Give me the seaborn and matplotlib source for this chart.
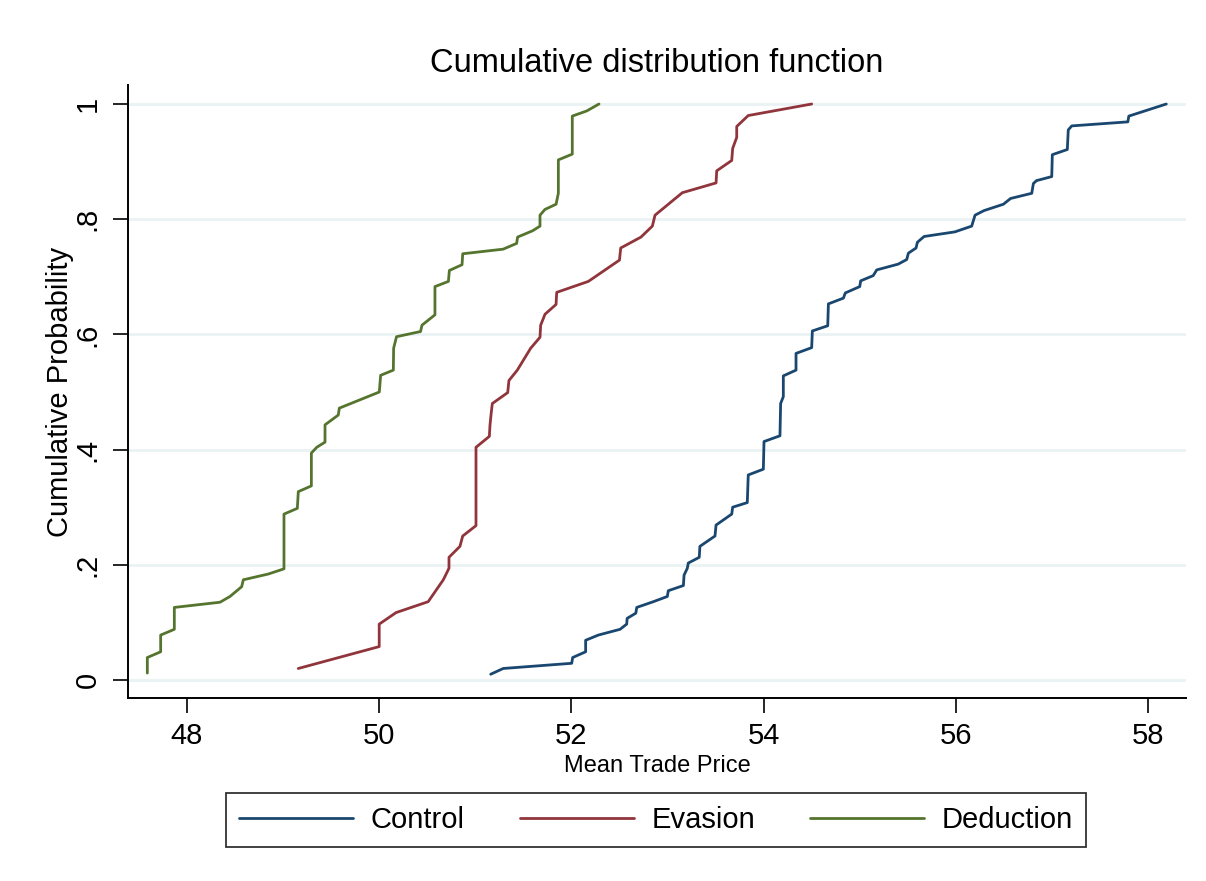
import numpy as np
import pandas as pd
import seaborn as sns
import matplotlib
matplotlib.use("Agg")
import matplotlib.pyplot as plt

# ---- data ----
groups = ["Control", "Evasion", "Deduction"]

control_x = [51.16, 51.29, 52.003, 52.013, 52.148, 52.148, 52.28, 52.506, 52.575, 52.58,
             52.67, 52.68, 52.853, 52.998, 53.008, 53.165, 53.172, 53.206, 53.216, 53.33,
             53.337, 53.494, 53.505, 53.668, 53.678, 53.83, 53.84, 53.997, 54.004, 54.17,
             54.177, 54.205, 54.205, 54.337, 54.337, 54.5, 54.507, 54.667, 54.674, 54.83,
             54.85, 55.0, 55.01, 55.14, 55.177, 55.40, 55.489, 55.506, 55.586, 55.6,
             55.67, 55.99, 56.165, 56.2, 56.294, 56.495, 56.57, 56.79, 56.807, 56.84,
             56.998, 57.004, 57.16, 57.17, 57.206, 57.79, 57.8, 58.19]
control_y = [0.010, 0.020, 0.029, 0.039, 0.049, 0.069, 0.078, 0.088, 0.097, 0.107,
             0.116, 0.126, 0.136, 0.145, 0.155, 0.164, 0.182, 0.194, 0.203, 0.213,
             0.232, 0.250, 0.269, 0.288, 0.300, 0.308, 0.356, 0.366, 0.414, 0.424,
             0.480, 0.492, 0.528, 0.538, 0.567, 0.577, 0.606, 0.615, 0.653, 0.663,
             0.672, 0.683, 0.693, 0.702, 0.712, 0.722, 0.730, 0.741, 0.750, 0.760,
             0.770, 0.778, 0.788, 0.807, 0.815, 0.826, 0.836, 0.845, 0.862, 0.867,
             0.874, 0.912, 0.921, 0.955, 0.962, 0.969, 0.979, 1.000]

evasion_x = [49.158, 50.0, 50.0, 50.175, 50.51, 50.58, 50.667, 50.726, 50.726, 50.84,
             50.869, 51.007, 51.007, 51.146, 51.153, 51.165, 51.177, 51.337, 51.35, 51.437,
             51.576, 51.673, 51.68, 51.725, 51.84, 51.847, 52.176, 52.5, 52.513, 52.724,
             52.842, 52.87, 53.154, 53.505, 53.512, 53.668, 53.678, 53.72, 53.72, 53.84,
             54.5]
evasion_y = [0.020, 0.058, 0.097, 0.117, 0.136, 0.153, 0.174, 0.194, 0.213, 0.232,
             0.250, 0.268, 0.404, 0.423, 0.443, 0.463, 0.480, 0.499, 0.520, 0.538,
             0.576, 0.595, 0.616, 0.635, 0.652, 0.673, 0.692, 0.729, 0.750, 0.769,
             0.788, 0.807, 0.846, 0.863, 0.884, 0.902, 0.923, 0.942, 0.961, 0.980,
             1.000]

deduction_x = [47.587, 47.587, 47.726, 47.726, 47.868, 47.868, 48.343, 48.447, 48.569, 48.586,
               48.846, 49.009, 49.009, 49.148, 49.158, 49.294, 49.294, 49.35, 49.436, 49.436,
               49.574, 49.585, 50.001, 50.015, 50.147, 50.15, 50.18, 50.43, 50.445, 50.58,
               50.58, 50.72, 50.73, 50.862, 50.869, 51.29, 51.43, 51.44, 51.597, 51.673,
               51.673, 51.725, 51.84, 51.864, 51.864, 52.009, 52.009, 52.16, 52.287]
deduction_y = [0.012, 0.039, 0.049, 0.078, 0.088, 0.126, 0.135, 0.145, 0.162, 0.174,
               0.184, 0.193, 0.288, 0.298, 0.327, 0.337, 0.394, 0.404, 0.413, 0.443,
               0.460, 0.472, 0.500, 0.529, 0.538, 0.576, 0.596, 0.605, 0.616, 0.634,
               0.683, 0.692, 0.711, 0.721, 0.740, 0.748, 0.758, 0.769, 0.780, 0.788,
               0.807, 0.817, 0.826, 0.845, 0.903, 0.913, 0.979, 0.988, 1.000]

x_ticks = [48, 50, 52, 54, 56, 58]
y_ticks = [0, 0.2, 0.4, 0.6, 0.8, 1.0]
y_tick_labels = ["0", ".2", ".4", ".6", ".8", "1"]

colors = {"Control": "#1a476f", "Evasion": "#90353b", "Deduction": "#55752f"}

frames = []
for g, xs, ys in [("Control", control_x, control_y),
                  ("Evasion", evasion_x, evasion_y),
                  ("Deduction", deduction_x, deduction_y)]:
    frames.append(pd.DataFrame({"price": xs, "cum": ys, "group": g}))
df = pd.concat(frames, ignore_index=True)

# ---- style ----
sns.set_theme(style="white")
plt.rcParams["font.family"] = ["Liberation Sans", "DejaVu Sans"]
plt.rcParams["text.color"] = "black"
plt.rcParams["axes.labelcolor"] = "black"
plt.rcParams["xtick.color"] = "black"
plt.rcParams["ytick.color"] = "black"

fig = plt.figure(figsize=(12.06, 8.81), dpi=100)
ax = fig.add_axes([128 / 1206, 1 - 698 / 881, (1186 - 128) / 1206, (698 - 85) / 881])

for y in y_ticks:
    ax.axhline(y, color="#eaf2f3", lw=2, zorder=0)

sns.lineplot(data=df, x="price", y="cum", hue="group", hue_order=groups,
             palette=colors, sort=False, estimator=None, units="group",
             lw=2.0, ax=ax, legend=True)

ax.set_xlim(47.386, 58.395)
ax.set_ylim(-0.03125, 1.033)
ax.set_xticks(x_ticks)
ax.set_xticklabels([str(t) for t in x_ticks], fontsize=21)
ax.set_yticks(y_ticks)
ax.set_yticklabels(y_tick_labels, rotation=90, va="center", fontsize=21)
ax.tick_params(axis="both", direction="out", length=11, width=1.2, color="black",
               bottom=True, left=True)
ax.tick_params(axis="x", pad=6)
ax.tick_params(axis="y", pad=8)

for s in ["top", "right"]:
    ax.spines[s].set_visible(False)
for s in ["left", "bottom"]:
    ax.spines[s].set_color("black")
    ax.spines[s].set_linewidth(1.4)

ax.set_xlabel("Mean Trade Price", fontsize=17, labelpad=4)
ax.set_ylabel("Cumulative Probability", fontsize=21, labelpad=0)
ax.set_title("Cumulative distribution function", fontsize=23.5, pad=9)

handles, labels = ax.get_legend_handles_labels()
ax.get_legend().remove()
leg = fig.legend(handles, labels, loc="center", bbox_to_anchor=(656 / 1206, 1 - 820 / 881),
                 ncol=3, frameon=True, fancybox=False, edgecolor="black", fontsize=21,
                 handlelength=3.9, handletextpad=0.6, columnspacing=1.9,
                 borderpad=0.45, borderaxespad=0)
leg.get_frame().set_linewidth(1.3)
for h in leg.legend_handles:
    h.set_linewidth(2.0)

fig.savefig("out.png", dpi=100, facecolor="white")
